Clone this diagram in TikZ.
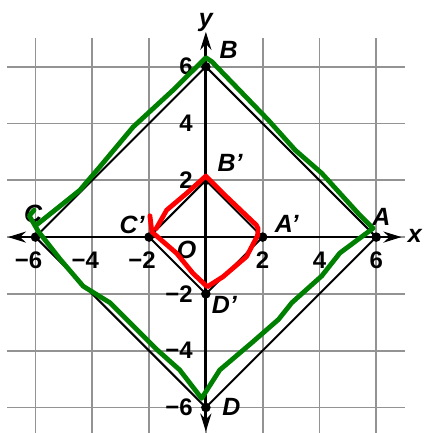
\documentclass[tikz,border=0pt]{standalone}
\usepackage{fontspec}
\setmainfont{Liberation Sans}
\usetikzlibrary{arrows.meta}

\begin{document}
\begin{tikzpicture}[
			x=0.5cm, y=0.5cm,
			gridline/.style={draw=gray!85, line width=0.9pt},
			axis/.style={{Stealth[length=9pt,width=5.5pt]}-{Stealth[length=9pt,width=5.5pt]}, line width=1.4pt},
			dot/.style={circle, fill=black, inner sep=0pt, minimum size=4.8pt},
			side/.style={line width=1pt},
			tick/.style={font=\fontsize{12}{12}\selectfont\bfseries, inner sep=0pt},
			letter/.style={font=\fontsize{12.5}{12.5}\selectfont\bfseries\itshape, inner sep=0pt},
			greenpen/.style={draw=green!50!black, line width=2.4pt, line join=round, line cap=round},
			redpen/.style={draw=red, line width=2.4pt, line join=round, line cap=round}
			]
			
			\useasboundingbox (-7.25,-6.9) rectangle (7.68,8.35);
			
			% Grid
			\draw [gridline] (-7,-7) grid (7,7);
			
			% Points
			\node (A) [dot] at (6,0) {};
			\node (B) [dot] at (0,6) {};
			\node (C) [dot] at (-6,0) {};
			\node (D) [dot] at (0,-6) {};
			\node (A1) [dot] at (2,0) {};
			\node (B1) [dot] at (0,2) {};
			\node (C1) [dot] at (-2,0) {};
			\node (D1) [dot] at (0,-2) {};
			
			% Squares
			\draw [side] (A.center) -- (B.center) -- (C.center) -- (D.center) -- cycle;
			\draw [side] (A1.center) -- (B1.center) -- (C1.center) -- (D1.center) -- cycle;
			
			% Axes
			\coordinate (xleft) at (-6.97,0);
			\coordinate (xright) at (6.89,0);
			\coordinate (ytop) at (0,7.23);
			\coordinate (ybottom) at (0,-6.85);
			\draw [axis] (xleft) -- (xright);
			\draw [axis] (ybottom) -- (ytop);
			\node (xlab) [letter] at (7.36,0.05) {x};
			\node (ylab) [letter] at (0,7.55) {y};
			
			% Tick labels
			\foreach \k in {2,4,6} {
				\node (tx\k) [tick] at (\k,-0.8) {\k};
				\node (tnx\k) [tick] at (-\k,-0.8) {\llap{−}\k};
				\node (ty\k) [tick, anchor=east] at (-0.45,\k) {\k};
				\node (tny\k) [tick, anchor=east] at (-0.45,-\k) {−\k};
			}
			
			% Letters
			\node (labA) [letter] at (6.18,0.72) {A};
			\node (labB) [letter] at (0.8,6.58) {B};
			\node (labC) [letter] at (-6.08,0.83) {C};
			\node (labD) [letter] at (0.9,-5.97) {D};
			\node (labA1) [letter] at (2.85,0.45) {A'};
			\node (labB1) [letter] at (0.85,2.6) {B'};
			\node (labC1) [letter] at (-2.6,0.42) {C'};
			\node (labD1) [letter] at (0.65,-2.4) {D'};
			\node (labO) [letter] at (-0.68,-0.46) {O};
			
			% Hand-drawn outlines
			\draw [greenpen] (-6.05,0.95) -- (-6.22,0.75) -- (-5.9,0.2) -- (-5.14,-0.77) -- (-4.32,-1.73)
				-- (-3.38,-2.31) -- (-1.74,-3.95) -- (-0.92,-4.68) -- (-0.15,-5.68) -- (0.49,-4.68)
				-- (1.62,-3.72) -- (2.56,-2.9) -- (3.03,-2.31) -- (4.08,-1.37) -- (4.72,-0.56)
				-- (5.89,0.31) -- (5.37,0.83) -- (4.08,2.25) -- (3.15,3.06) -- (2.2,4.12)
				-- (0.21,6.18) -- (0,6.32) -- (-1.15,5.18) -- (-2.56,3.88) -- (-3.73,2.48)
				-- (-4.44,1.65) -- (-6.0,0.4);
			\draw [redpen] (-1.97,0.75) -- (-1.9,0.18) -- (-1.03,-0.57) -- (-0.45,-1.28) -- (0.05,-1.75)
				-- (0.6,-1.4) -- (1.43,-0.69) -- (1.82,0.05) -- (1.84,0.3) -- (1.78,0.42)
				-- (0.73,1.42) -- (0,2.15) -- (-0.68,1.54) -- (-1.38,0.95) -- (-1.75,0.3);
			
		\end{tikzpicture}
\end{document}
